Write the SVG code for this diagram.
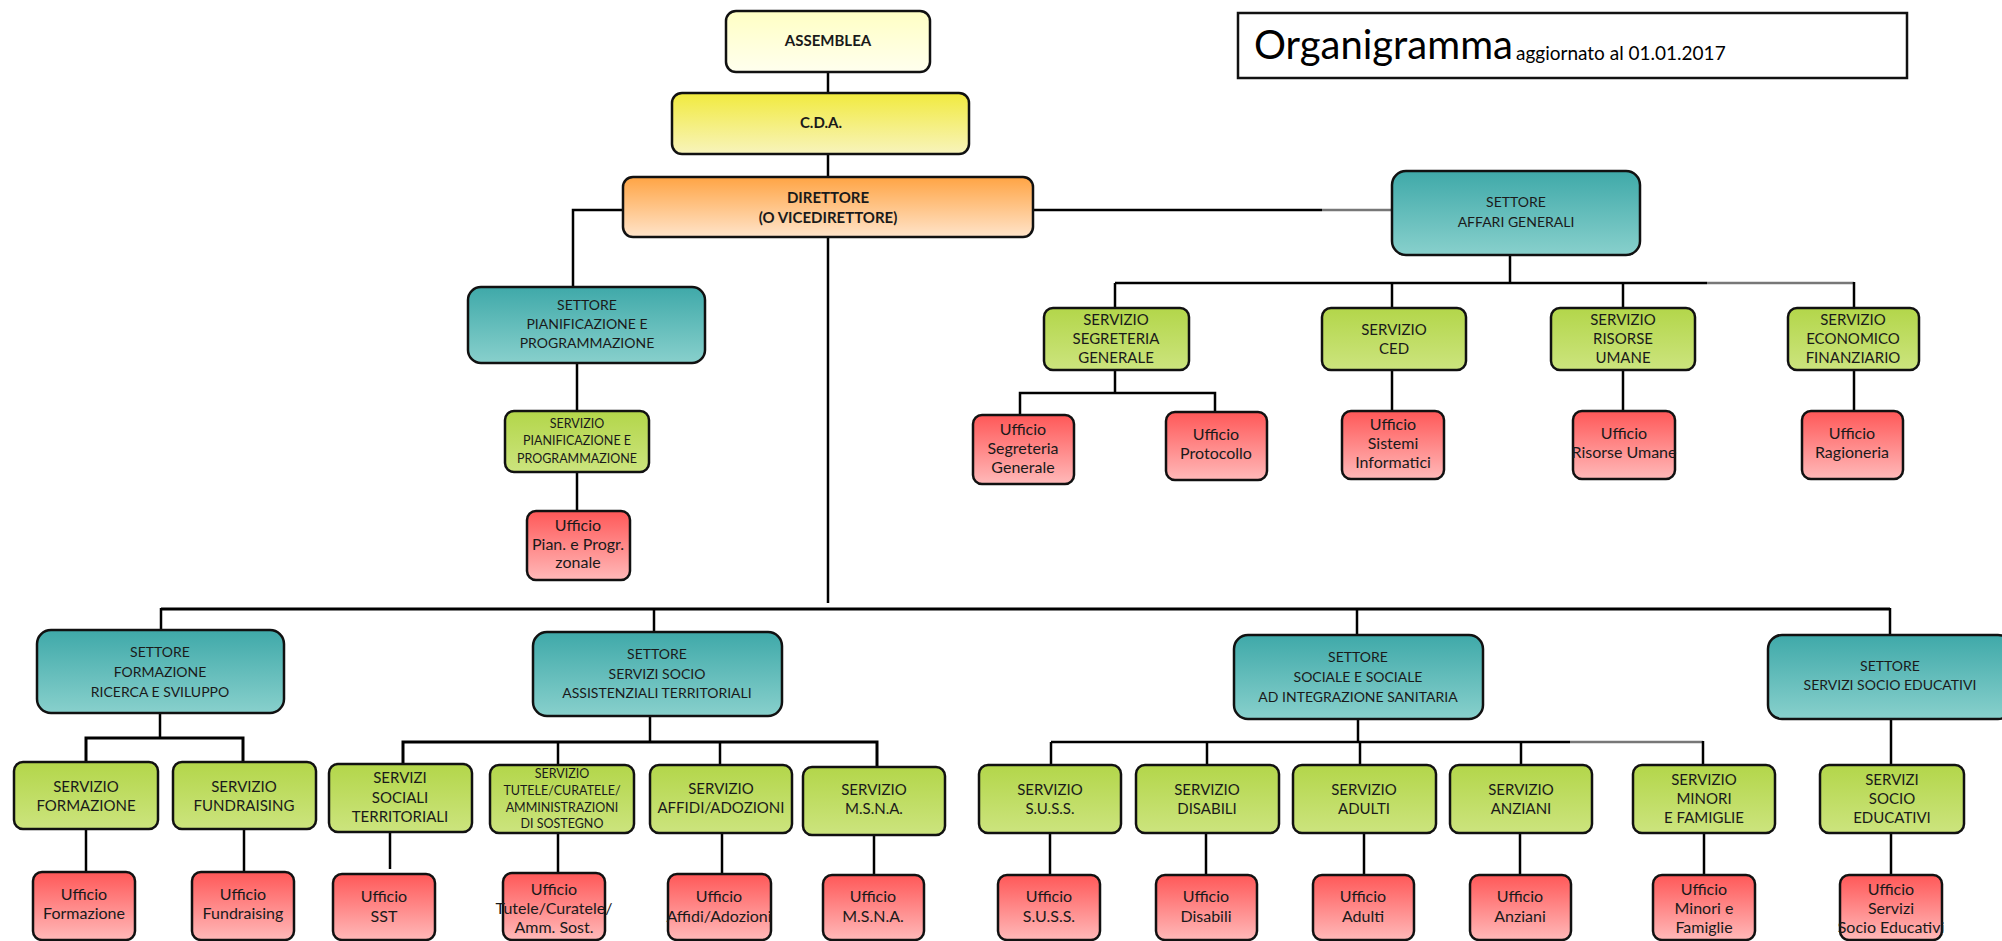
<svg xmlns="http://www.w3.org/2000/svg" width="2002" height="941" viewBox="0 0 2002 941">
<defs>
<linearGradient id="gAss" x1="0" y1="0" x2="0" y2="1"><stop offset="0" stop-color="#FFFFC4"/><stop offset="1" stop-color="#FFFFEE"/></linearGradient>
<linearGradient id="gCda" x1="0" y1="0" x2="0" y2="1"><stop offset="0" stop-color="#F1EA3E"/><stop offset="1" stop-color="#F8F4BC"/></linearGradient>
<linearGradient id="gDir" x1="0" y1="0" x2="0" y2="1"><stop offset="0" stop-color="#FFA444"/><stop offset="1" stop-color="#FFE4CA"/></linearGradient>
<linearGradient id="gSet" x1="0" y1="0" x2="0" y2="1"><stop offset="0" stop-color="#3FA9A9"/><stop offset="1" stop-color="#88D0CC"/></linearGradient>
<linearGradient id="gSer" x1="0" y1="0" x2="0" y2="1"><stop offset="0" stop-color="#B3D64A"/><stop offset="1" stop-color="#CCE47E"/></linearGradient>
<linearGradient id="gUff" x1="0" y1="0" x2="0" y2="1"><stop offset="0" stop-color="#FF5858"/><stop offset="1" stop-color="#FFB9B9"/></linearGradient>
</defs>
<style>
rect.b{stroke:#111;stroke-width:2.5}
.ass{fill:url(#gAss)}.cda{fill:url(#gCda)}.dir{fill:url(#gDir)}
.set{fill:url(#gSet)}.ser{fill:url(#gSer)}.uff{fill:url(#gUff)}
text{font-family:Lato,"Liberation Sans",sans-serif;text-anchor:middle;fill:#1a1a1a}
.tb{font-weight:bold;font-size:15px}
.ts{font-size:14px}
.tv{font-size:15px}
.tvs{font-size:12.5px}
.tu{font-size:16px}
#connectors line,#connectors polyline{stroke:#000;stroke-width:2.5;fill:none}
#connectors .gr{stroke:#777}
</style>
<rect width="2002" height="941" fill="#fff"/>

<g id="title">
<rect x="1238" y="13" width="669" height="65" fill="#fff" stroke="#111" stroke-width="2.5"/>
<text x="1254" y="59" style="text-anchor:start;font-size:40px;fill:#000">Organigramma</text>
<text x="1516" y="60" style="text-anchor:start;font-size:19px;fill:#000">aggiornato al 01.01.2017</text>
</g>

<g id="connectors">
<line x1="828" y1="72" x2="828" y2="93"/>
<line x1="828" y1="154" x2="828" y2="177"/>
<line x1="828" y1="237" x2="828" y2="603"/>
<polyline points="623,210 573,210 573,287"/>
<line x1="1033" y1="210" x2="1322" y2="210"/>
<line class="gr" x1="1322" y1="210" x2="1392" y2="210"/>
<line x1="1510" y1="255" x2="1510" y2="283"/>
<line x1="1115" y1="283" x2="1707" y2="283"/>
<line class="gr" x1="1707" y1="283" x2="1854" y2="283"/>
<line x1="1115" y1="283" x2="1115" y2="308"/>
<line x1="1392" y1="283" x2="1392" y2="308"/>
<line x1="1623" y1="283" x2="1623" y2="308"/>
<line x1="1854" y1="282" x2="1854" y2="308"/>
<line x1="1115" y1="370" x2="1115" y2="393"/>
<polyline points="1020,415 1020,393 1215,393 1215,412"/>
<line x1="1392" y1="370" x2="1392" y2="411"/>
<line x1="1623" y1="370" x2="1623" y2="411"/>
<line x1="1854" y1="370" x2="1854" y2="411"/>
<line x1="577" y1="363" x2="577" y2="411"/>
<line x1="577" y1="472" x2="577" y2="511"/>
<line x1="161" y1="609" x2="1890" y2="609" style="stroke-width:3"/>
<line x1="161" y1="608" x2="161" y2="630"/>
<line x1="654" y1="608" x2="654" y2="632"/>
<line x1="1357" y1="608" x2="1357" y2="635"/>
<line x1="1890" y1="608" x2="1890" y2="635"/>
<line x1="160" y1="713" x2="160" y2="738"/>
<polyline points="86,762 86,738 243,738 243,762" style="stroke-width:3"/>
<line x1="86" y1="829" x2="86" y2="872"/>
<line x1="244" y1="829" x2="244" y2="872"/>
<line x1="650" y1="716" x2="650" y2="742"/>
<polyline points="403,764 403,742 877,742 877,767" style="stroke-width:3"/>
<line x1="558" y1="742" x2="558" y2="765"/>
<line x1="720" y1="742" x2="720" y2="765"/>
<line x1="390" y1="832" x2="390" y2="869"/>
<line x1="558" y1="833" x2="558" y2="872"/>
<line x1="722" y1="833" x2="722" y2="874"/>
<line x1="874" y1="835" x2="874" y2="875"/>
<line x1="1358" y1="719" x2="1358" y2="742"/>
<line x1="1051" y1="742" x2="1570" y2="742"/>
<line class="gr" x1="1570" y1="742" x2="1703" y2="742"/>
<line x1="1051" y1="742" x2="1051" y2="765"/>
<line x1="1207" y1="742" x2="1207" y2="765"/>
<line x1="1360" y1="742" x2="1360" y2="765"/>
<line x1="1521" y1="742" x2="1521" y2="765"/>
<line x1="1703" y1="741" x2="1703" y2="765"/>
<line x1="1050" y1="833" x2="1050" y2="875"/>
<line x1="1206" y1="833" x2="1206" y2="875"/>
<line x1="1364" y1="833" x2="1364" y2="875"/>
<line x1="1520" y1="833" x2="1520" y2="875"/>
<line x1="1704" y1="833" x2="1704" y2="875"/>
<line x1="1891" y1="719" x2="1891" y2="765"/>
<line x1="1891" y1="833" x2="1891" y2="875"/>
</g>

<g id="assemblea"><rect class="b ass" x="726" y="11" width="204" height="61" rx="10"/><text class="tb" x="828" y="46">ASSEMBLEA</text></g>
<g id="cda"><rect class="b cda" x="672" y="93" width="297" height="61" rx="10"/><text class="tb" x="821" y="128">C.D.A.</text></g>
<g id="direttore"><rect class="b dir" x="623" y="177" width="410" height="60" rx="10"/><text class="tb" x="828" y="203">DIRETTORE</text><text class="tb" x="828" y="223">(O VICEDIRETTORE)</text></g>

<g id="settore-affari"><rect class="b set" x="1392" y="171" width="248" height="84" rx="14"/><text class="ts" x="1516"><tspan x="1516" y="207">SETTORE</tspan><tspan x="1516" y="227">AFFARI GENERALI</tspan></text></g>
<g id="srv-segreteria"><rect class="b ser" x="1044" y="308" width="145" height="62" rx="9"/><text class="tv"><tspan x="1116" y="325">SERVIZIO</tspan><tspan x="1116" y="344">SEGRETERIA</tspan><tspan x="1116" y="363">GENERALE</tspan></text></g>
<g id="srv-ced"><rect class="b ser" x="1322" y="308" width="144" height="62" rx="9"/><text class="tv"><tspan x="1394" y="335">SERVIZIO</tspan><tspan x="1394" y="354">CED</tspan></text></g>
<g id="srv-risorse"><rect class="b ser" x="1551" y="308" width="144" height="62" rx="9"/><text class="tv"><tspan x="1623" y="325">SERVIZIO</tspan><tspan x="1623" y="344">RISORSE</tspan><tspan x="1623" y="363">UMANE</tspan></text></g>
<g id="srv-economico"><rect class="b ser" x="1788" y="308" width="131" height="62" rx="9"/><text class="tv"><tspan x="1853" y="325">SERVIZIO</tspan><tspan x="1853" y="344">ECONOMICO</tspan><tspan x="1853" y="363">FINANZIARIO</tspan></text></g>
<g id="uff-segreteria"><rect class="b uff" x="973" y="415" width="101" height="69" rx="9"/><text class="tu"><tspan x="1023" y="435">Ufficio</tspan><tspan x="1023" y="454">Segreteria</tspan><tspan x="1023" y="473">Generale</tspan></text></g>
<g id="uff-protocollo"><rect class="b uff" x="1166" y="412" width="101" height="68" rx="9"/><text class="tu"><tspan x="1216" y="440">Ufficio</tspan><tspan x="1216" y="459">Protocollo</tspan></text></g>
<g id="uff-sistemi"><rect class="b uff" x="1342" y="411" width="102" height="68" rx="9"/><text class="tu"><tspan x="1393" y="430">Ufficio</tspan><tspan x="1393" y="449">Sistemi</tspan><tspan x="1393" y="468">Informatici</tspan></text></g>
<g id="uff-risorse"><rect class="b uff" x="1573" y="411" width="102" height="68" rx="9"/><text class="tu"><tspan x="1624" y="439">Ufficio</tspan><tspan x="1624" y="458">Risorse Umane</tspan></text></g>
<g id="uff-ragioneria"><rect class="b uff" x="1802" y="411" width="101" height="68" rx="9"/><text class="tu"><tspan x="1852" y="439">Ufficio</tspan><tspan x="1852" y="458">Ragioneria</tspan></text></g>

<g id="settore-pianificazione"><rect class="b set" x="468" y="287" width="237" height="76" rx="13"/><text class="ts"><tspan x="587" y="310">SETTORE</tspan><tspan x="587" y="329">PIANIFICAZIONE E</tspan><tspan x="587" y="348">PROGRAMMAZIONE</tspan></text></g>
<g id="srv-pianificazione"><rect class="b ser" x="505" y="411" width="144" height="61" rx="9"/><text class="tvs"><tspan x="577" y="428">SERVIZIO</tspan><tspan x="577" y="445">PIANIFICAZIONE E</tspan><tspan x="577" y="463">PROGRAMMAZIONE</tspan></text></g>
<g id="uff-pianificazione"><rect class="b uff" x="527" y="511" width="103" height="69" rx="9"/><text class="tu"><tspan x="578" y="531">Ufficio</tspan><tspan x="578" y="550">Pian. e Progr.</tspan><tspan x="578" y="568">zonale</tspan></text></g>

<g id="settore-formazione"><rect class="b set" x="37" y="630" width="247" height="83" rx="14"/><text class="ts"><tspan x="160" y="657">SETTORE</tspan><tspan x="160" y="677">FORMAZIONE</tspan><tspan x="160" y="697">RICERCA E SVILUPPO</tspan></text></g>
<g id="srv-formazione"><rect class="b ser" x="14" y="762" width="144" height="67" rx="9"/><text class="tv"><tspan x="86" y="792">SERVIZIO</tspan><tspan x="86" y="811">FORMAZIONE</tspan></text></g>
<g id="srv-fundraising"><rect class="b ser" x="173" y="762" width="143" height="67" rx="9"/><text class="tv"><tspan x="244" y="792">SERVIZIO</tspan><tspan x="244" y="811">FUNDRAISING</tspan></text></g>
<g id="uff-formazione"><rect class="b uff" x="33" y="872" width="102" height="68" rx="9"/><text class="tu"><tspan x="84" y="900">Ufficio</tspan><tspan x="84" y="919">Formazione</tspan></text></g>
<g id="uff-fundraising"><rect class="b uff" x="192" y="872" width="102" height="68" rx="9"/><text class="tu"><tspan x="243" y="900">Ufficio</tspan><tspan x="243" y="919">Fundraising</tspan></text></g>

<g id="settore-ssat"><rect class="b set" x="533" y="632" width="249" height="84" rx="14"/><text class="ts"><tspan x="657" y="659">SETTORE</tspan><tspan x="657" y="679">SERVIZI SOCIO</tspan><tspan x="657" y="698">ASSISTENZIALI TERRITORIALI</tspan></text></g>
<g id="srv-sociali"><rect class="b ser" x="329" y="764" width="143" height="68" rx="9"/><text class="tv"><tspan x="400" y="783">SERVIZI</tspan><tspan x="400" y="803">SOCIALI</tspan><tspan x="400" y="822">TERRITORIALI</tspan></text></g>
<g id="srv-tutele"><rect class="b ser" x="490" y="765" width="144" height="68" rx="9"/><text class="tvs"><tspan x="562" y="778">SERVIZIO</tspan><tspan x="562" y="795">TUTELE/CURATELE/</tspan><tspan x="562" y="812">AMMINISTRAZIONI</tspan><tspan x="562" y="828">DI SOSTEGNO</tspan></text></g>
<g id="srv-affidi"><rect class="b ser" x="650" y="765" width="142" height="68" rx="9"/><text class="tv"><tspan x="721" y="794">SERVIZIO</tspan><tspan x="721" y="813">AFFIDI/ADOZIONI</tspan></text></g>
<g id="srv-msna"><rect class="b ser" x="803" y="767" width="142" height="68" rx="9"/><text class="tv"><tspan x="874" y="795">SERVIZIO</tspan><tspan x="874" y="814">M.S.N.A.</tspan></text></g>
<g id="uff-sst"><rect class="b uff" x="333" y="874" width="102" height="66" rx="9"/><text class="tu"><tspan x="384" y="902">Ufficio</tspan><tspan x="384" y="922">SST</tspan></text></g>
<g id="uff-tutele"><rect class="b uff" x="503" y="873" width="102" height="67" rx="9"/><text class="tu"><tspan x="554" y="895">Ufficio</tspan><tspan x="554" y="914">Tutele/Curatele/</tspan><tspan x="554" y="933">Amm. Sost.</tspan></text></g>
<g id="uff-affidi"><rect class="b uff" x="668" y="874" width="103" height="66" rx="9"/><text class="tu"><tspan x="719" y="902">Ufficio</tspan><tspan x="719" y="922">Affidi/Adozioni</tspan></text></g>
<g id="uff-msna"><rect class="b uff" x="823" y="875" width="101" height="65" rx="9"/><text class="tu"><tspan x="873" y="902">Ufficio</tspan><tspan x="873" y="922">M.S.N.A.</tspan></text></g>

<g id="settore-sociale"><rect class="b set" x="1234" y="635" width="249" height="84" rx="14"/><text class="ts"><tspan x="1358" y="662">SETTORE</tspan><tspan x="1358" y="682">SOCIALE E SOCIALE</tspan><tspan x="1358" y="702">AD INTEGRAZIONE SANITARIA</tspan></text></g>
<g id="srv-suss"><rect class="b ser" x="979" y="765" width="142" height="68" rx="9"/><text class="tv"><tspan x="1050" y="795">SERVIZIO</tspan><tspan x="1050" y="814">S.U.S.S.</tspan></text></g>
<g id="srv-disabili"><rect class="b ser" x="1136" y="765" width="143" height="68" rx="9"/><text class="tv"><tspan x="1207" y="795">SERVIZIO</tspan><tspan x="1207" y="814">DISABILI</tspan></text></g>
<g id="srv-adulti"><rect class="b ser" x="1293" y="765" width="143" height="68" rx="9"/><text class="tv"><tspan x="1364" y="795">SERVIZIO</tspan><tspan x="1364" y="814">ADULTI</tspan></text></g>
<g id="srv-anziani"><rect class="b ser" x="1450" y="765" width="142" height="68" rx="9"/><text class="tv"><tspan x="1521" y="795">SERVIZIO</tspan><tspan x="1521" y="814">ANZIANI</tspan></text></g>
<g id="srv-minori"><rect class="b ser" x="1633" y="765" width="142" height="68" rx="9"/><text class="tv"><tspan x="1704" y="785">SERVIZIO</tspan><tspan x="1704" y="804">MINORI</tspan><tspan x="1704" y="823">E FAMIGLIE</tspan></text></g>
<g id="uff-suss"><rect class="b uff" x="998" y="875" width="102" height="65" rx="9"/><text class="tu"><tspan x="1049" y="902">Ufficio</tspan><tspan x="1049" y="922">S.U.S.S.</tspan></text></g>
<g id="uff-disabili"><rect class="b uff" x="1156" y="875" width="101" height="65" rx="9"/><text class="tu"><tspan x="1206" y="902">Ufficio</tspan><tspan x="1206" y="922">Disabili</tspan></text></g>
<g id="uff-adulti"><rect class="b uff" x="1313" y="875" width="101" height="65" rx="9"/><text class="tu"><tspan x="1363" y="902">Ufficio</tspan><tspan x="1363" y="922">Adulti</tspan></text></g>
<g id="uff-anziani"><rect class="b uff" x="1470" y="875" width="101" height="65" rx="9"/><text class="tu"><tspan x="1520" y="902">Ufficio</tspan><tspan x="1520" y="922">Anziani</tspan></text></g>
<g id="uff-minori"><rect class="b uff" x="1653" y="875" width="102" height="65" rx="9"/><text class="tu"><tspan x="1704" y="895">Ufficio</tspan><tspan x="1704" y="914">Minori e</tspan><tspan x="1704" y="933">Famiglie</tspan></text></g>

<g id="settore-educativi"><rect class="b set" x="1768" y="635" width="244" height="84" rx="14"/><text class="ts"><tspan x="1890" y="671">SETTORE</tspan><tspan x="1890" y="690">SERVIZI SOCIO EDUCATIVI</tspan></text></g>
<g id="srv-educativi"><rect class="b ser" x="1820" y="765" width="144" height="68" rx="9"/><text class="tv"><tspan x="1892" y="785">SERVIZI</tspan><tspan x="1892" y="804">SOCIO</tspan><tspan x="1892" y="823">EDUCATIVI</tspan></text></g>
<g id="uff-educativi"><rect class="b uff" x="1840" y="875" width="102" height="65" rx="9"/><text class="tu"><tspan x="1891" y="895">Ufficio</tspan><tspan x="1891" y="914">Servizi</tspan><tspan x="1891" y="933">Socio Educativi</tspan></text></g>
</svg>
